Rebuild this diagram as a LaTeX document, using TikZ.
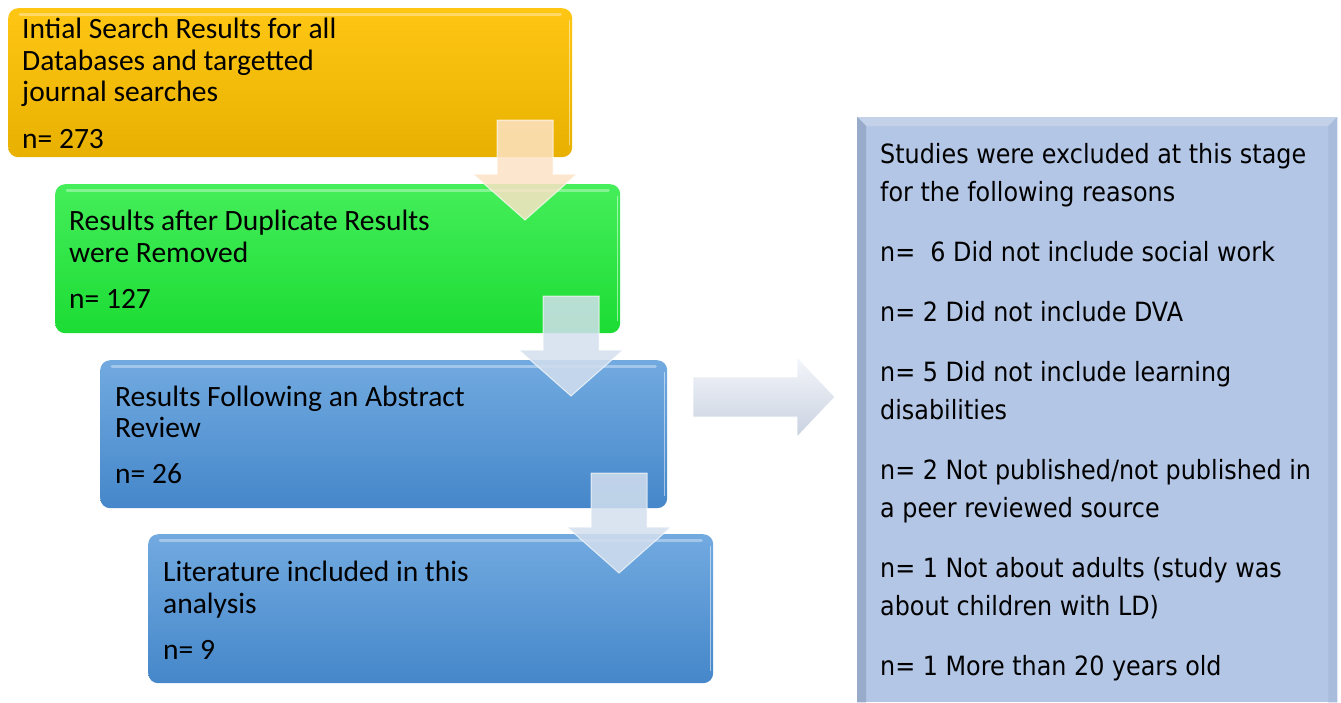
\documentclass[tikz,border=0pt]{standalone}
\usepackage{fontspec}
\setmainfont{Carlito}
\newfontfamily\rfont{DejaVu Sans}[FakeStretch=0.9]
\definecolor{otop}{HTML}{FFC714}
\definecolor{obot}{HTML}{E8B000}
\definecolor{gtop}{HTML}{45EE5A}
\definecolor{gbot}{HTML}{1CDC34}
\definecolor{btop}{HTML}{72AAE0}
\definecolor{bbot}{HTML}{4587CA}
\definecolor{rbox}{HTML}{B3C6E5}
\definecolor{rleft}{HTML}{98ABCB}
\definecolor{rtopc}{HTML}{C3D1E9}
\definecolor{rright}{HTML}{A9BCDC}
\definecolor{peach}{HTML}{FCE3C6}
\definecolor{pale}{HTML}{D3DFEE}
\definecolor{arrtop}{HTML}{F4F6FA}
\definecolor{arrbot}{HTML}{C9D1E0}
\tikzset{
  flowbox/.style={rounded corners=10pt, anchor=north west, inner sep=0pt, draw=none},
  orangebox/.style={flowbox, top color=otop, bottom color=obot},
  greenbox/.style={flowbox, top color=gtop, bottom color=gbot},
  bluebox/.style={flowbox, top color=btop, bottom color=bbot},
  lbl/.style={anchor=base west, inner sep=0pt, font=\fontsize{29.5}{32}\selectfont},
  rlbl/.style={anchor=base west, inner sep=0pt, font=\rfont\fontsize{26.5}{30}\selectfont},
  downarrA/.style={fill=peach, fill opacity=0.85, draw=white, draw opacity=0.7, line width=1pt},
  downarrB/.style={fill=pale, fill opacity=0.85, draw=white, draw opacity=0.7, line width=1pt},
  gloss/.style={white, opacity=0.35, line width=3pt, line cap=round},
}
\begin{document}
\begin{tikzpicture}[x=1pt,y=-1pt]
\useasboundingbox (0,0) rectangle (1341,702);

% left flow boxes
\node[orangebox, minimum width=564pt, minimum height=149pt] (b1) at (8,8) {};
\node[greenbox, minimum width=565pt, minimum height=149pt] (b2) at (55,184) {};
\node[bluebox, minimum width=567pt, minimum height=148pt] (b3) at (100,360) {};
\node[bluebox, minimum width=565pt, minimum height=149pt] (b4) at (148,534) {};

\foreach \b in {b1,b2,b3,b4}{
  \draw[gloss] ([xshift=12pt,yshift=-6pt]\b.north west) -- ([xshift=-12pt,yshift=-6pt]\b.north east);
  \draw[white, opacity=0.5, line width=1.5pt] ([xshift=-3pt,yshift=-12pt]\b.north east) -- ([xshift=-3pt,yshift=12pt]\b.south east);
}

% texts
\node[lbl] (t1a) at (22,38) {Intial Search Results for all};
\node[lbl] (t1b) at (22,70) {Databases and targetted};
\node[lbl] (t1c) at (22,101) {journal searches};
\node[lbl] (t1d) at (22,148) {n= 273};

\node[lbl] (t2a) at (69,230) {Results after Duplicate Results};
\node[lbl] (t2b) at (69,262) {were Removed};
\node[lbl] (t2c) at (69,308) {n= 127};

\node[lbl] (t3a) at (115,406) {Results Following an Abstract};
\node[lbl] (t3b) at (115,437) {Review};
\node[lbl] (t3c) at (115,483) {n= 26};

\node[lbl] (t4a) at (163,581) {Literature included in this};
\node[lbl] (t4b) at (163,613) {analysis};
\node[lbl] (t4c) at (163,659) {n= 9};

% down arrows
\coordinate (a1) at (525,120);
\coordinate (a2) at (571,296);
\coordinate (a3) at (619,473);
\foreach \c/\s in {a1/downarrA,a2/downarrB,a3/downarrB}{
  \draw[\s] ([xshift=-28pt]\c) -- ([xshift=28pt]\c) -- ([xshift=28pt,yshift=-54pt]\c)
    -- ([xshift=52pt,yshift=-54pt]\c) -- ([yshift=-100pt]\c) -- ([xshift=-52pt,yshift=-54pt]\c)
    -- ([xshift=-28pt,yshift=-54pt]\c) -- cycle;
}

% right excluded box with bevel
\node[anchor=north west, inner sep=0pt, minimum width=480pt, minimum height=585pt, fill=rbox] (rb) at (857,117) {};
\fill[rtopc] (rb.north west) -- (rb.north east) -- ([xshift=-9pt,yshift=-9pt]rb.north east) -- ([xshift=9pt,yshift=-9pt]rb.north west) -- cycle;
\fill[rleft] (rb.north west) -- ([xshift=9pt,yshift=-9pt]rb.north west) -- ([xshift=9pt]rb.south west) -- (rb.south west) -- cycle;
\fill[rright] (rb.north east) -- ([xshift=-9pt,yshift=-9pt]rb.north east) -- ([xshift=-9pt]rb.south east) -- (rb.south east) -- cycle;

% right arrow
\coordinate (ra) at (693,397);
\shade[top color=arrtop, bottom color=arrbot, draw=white, line width=0.8pt]
  ([yshift=-20pt]ra) -- ([xshift=104pt,yshift=-20pt]ra) -- ([xshift=104pt,yshift=-40pt]ra)
  -- ([xshift=142pt]ra) -- ([xshift=104pt,yshift=40pt]ra) -- ([xshift=104pt,yshift=20pt]ra)
  -- ([yshift=20pt]ra) -- cycle;

\node[rlbl] (r1) at (880,163) {Studies were excluded at this stage};
\node[rlbl] (r2) at (880,201) {for the following reasons};
\node[rlbl] (r3) at (880,261) {n=\ \ 6 Did not include social work};
\node[rlbl] (r4) at (880,321) {n= 2 Did not include DVA};
\node[rlbl] (r5) at (880,381) {n= 5 Did not include learning};
\node[rlbl] (r6) at (880,419) {disabilities};
\node[rlbl] (r7) at (880,479) {n= 2 Not published/not published in};
\node[rlbl] (r8) at (880,517) {a peer reviewed source};
\node[rlbl] (r9) at (880,577) {n= 1 Not about adults (study was};
\node[rlbl] (r10) at (880,615) {about children with LD)};
\node[rlbl] (r11) at (880,675) {n= 1 More than 20 years old};
\end{tikzpicture}
\end{document}
